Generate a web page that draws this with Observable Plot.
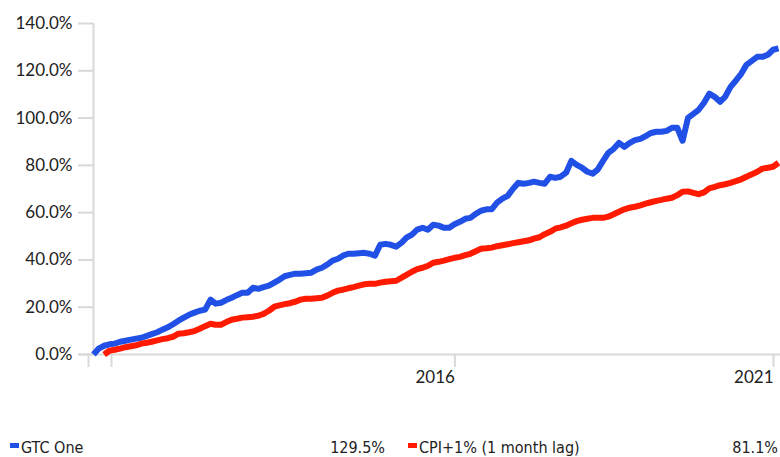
<!DOCTYPE html>
<html>
<head>
<meta charset="utf-8">
<script src="https://cdn.jsdelivr.net/npm/d3@7"></script>
<script src="https://cdn.jsdelivr.net/npm/@observablehq/plot@0.6"></script>
<style>
  html, body { margin: 0; padding: 0; background: #fff; }
  #wrap { position: relative; width: 780px; height: 457px; overflow: hidden; }
  #legend { position: absolute; left: 0; top: 400px; width: 780px; height: 57px;
            font-family: "DejaVu Sans Condensed", "Liberation Sans Narrow", sans-serif;
            font-size: 16px; color: #222; }
  #legend span { position: absolute; white-space: nowrap; line-height: 16px; }
  #legend .sw { display: block; position: absolute; width: 9px; height: 5px; }
</style>
</head>
<body>
<div id="wrap"><div id="chart"></div><div id="legend"></div></div>
<script>
// ---- data (monthly, starting April 2010) ----
const startMonth = "2010-04-01";
const seriesNames = ["GTC One", "CPI+1% (1 month lag)"];
const seriesColors = ["#2150e6", "#ff1a00"];
const finalLabels = ["129.5%", "81.1%"];

const gtcOne = [
  0.0, 2.5, 3.7, 4.3, 4.6, 5.4, 5.8, 6.3, 6.7, 7.1,
  7.9, 8.6, 9.4, 10.5, 11.5, 12.8, 14.3, 15.6, 16.8, 17.7,
  18.5, 19.0, 23.2, 21.5, 21.9, 23.0, 24.0, 25.1, 26.1, 26.1,
  28.2, 27.8, 28.5, 29.1, 30.4, 31.6, 33.1, 33.7, 34.2, 34.2,
  34.4, 34.6, 35.9, 36.7, 38.0, 39.7, 40.5, 41.8, 42.6, 42.6,
  42.8, 43.0, 42.6, 41.8, 46.4, 46.8, 46.4, 45.6, 47.3, 49.4,
  50.7, 52.8, 53.6, 52.8, 54.9, 54.5, 53.6, 53.6, 55.1, 56.1,
  57.4, 57.8, 59.5, 60.8, 61.4, 61.4, 64.2, 65.9, 67.1, 70.1,
  72.6, 72.2, 72.6, 73.1, 72.6, 72.2, 75.2, 74.7, 75.2, 76.9,
  81.9, 80.2, 79.0, 77.3, 76.5, 78.2, 81.9, 85.3, 87.0, 89.5,
  87.8, 89.5, 90.7, 91.2, 92.4, 93.7, 94.2, 94.2, 94.6, 95.9,
  95.9, 90.4, 100.1, 101.8, 103.5, 106.5, 110.3, 109.0, 106.9, 109.0,
  113.2, 115.8, 118.7, 122.5, 124.2, 125.9, 125.9, 126.8, 128.9, 129.5
];

const cpiPlus1 = [
  null, null, 0.0, 1.6, 2.0, 2.5, 3.1, 3.5, 3.9, 4.6,
  5.0, 5.4, 6.0, 6.5, 6.9, 7.5, 8.8, 9.0, 9.4, 9.9,
  10.9, 12.0, 13.0, 12.6, 12.6, 13.7, 14.7, 15.1, 15.6, 15.8,
  16.0, 16.4, 17.2, 18.5, 20.2, 20.8, 21.3, 21.7, 22.3, 23.2,
  23.6, 23.6, 23.8, 24.0, 24.9, 26.1, 27.0, 27.4, 28.0, 28.5,
  29.1, 29.7, 29.9, 29.9, 30.4, 30.8, 31.0, 31.2, 32.5, 33.7,
  35.0, 36.1, 36.7, 37.5, 38.8, 39.2, 39.7, 40.3, 40.9, 41.3,
  42.0, 42.6, 43.7, 44.7, 44.9, 45.2, 45.8, 46.2, 46.6, 47.1,
  47.5, 47.9, 48.3, 49.0, 49.6, 50.9, 51.9, 53.2, 53.8, 54.5,
  55.5, 56.4, 57.0, 57.4, 57.8, 57.8, 57.8, 58.3, 59.3, 60.4,
  61.4, 62.1, 62.5, 63.1, 63.8, 64.4, 65.0, 65.4, 65.9, 66.3,
  67.4, 68.8, 69.0, 68.4, 67.8, 68.6, 70.3, 70.9, 71.6, 72.0,
  72.6, 73.3, 74.1, 75.2, 76.2, 77.3, 78.6, 79.0, 79.4, 81.1
];

const yTicks = [0, 20, 40, 60, 80, 100, 120, 140];
const xTickDates = ["2010-04-01", "2010-08-11", "2016-01-01", "2021-01-01"];
const xTickLabels = ["", "", "2016", "2021"];

// ---- build ----
const start = new Date(startMonth + "T00:00:00Z");
const dates = gtcOne.map((_, i) => d3.utcMonth.offset(start, i));
const seriesValues = [gtcOne, cpiPlus1];
const rows = [];
seriesValues.forEach((vals, s) => vals.forEach((v, i) => {
  if (v != null) rows.push({date: dates[i], value: v, series: seriesNames[s]});
}));
const tickDates = xTickDates.map(d => new Date(d + "T00:00:00Z"));
const labelMap = new Map(tickDates.map((d, i) => [+d, xTickLabels[i]]));
const axisColor = "#d9d9d9";

const chart = Plot.plot({
  width: 780,
  height: 400,
  marginLeft: 93,
  marginRight: 2,
  marginTop: 23,
  marginBottom: 46,
  x: {type: "utc", domain: [dates[0], dates[dates.length - 1]]},
  y: {domain: [0, 140]},
  color: {domain: seriesNames, range: seriesColors},
  style: {fontFamily: "Lato, 'Open Sans', sans-serif", fontSize: "17px", color: "#222", background: "#fff"},
  marks: [
    Plot.ruleY([0], {stroke: axisColor, strokeWidth: 2, insetLeft: -15, insetRight: -2}),
    Plot.ruleX([dates[0]], {stroke: axisColor, strokeWidth: 2}),
    Plot.axisY(yTicks, {tickSize: 15, tickPadding: 6, stroke: axisColor, strokeWidth: 2,
      fill: "#222", tickFormat: d => d.toFixed(1) + "%", label: null}),
    Plot.axisX(tickDates, {tickSize: 13, tickPadding: 3, stroke: axisColor, strokeWidth: 2,
      fill: "#222", textAnchor: "end", dx: -5, label: null,
      tickFormat: d => labelMap.get(+d)}),
    Plot.lineY(rows, {x: "date", y: "value", z: "series", stroke: "series",
      strokeWidth: 6, strokeLinejoin: "round", strokeLinecap: "butt"})
  ]
});
document.getElementById("chart").appendChild(chart);

// ---- legend ----
const legend = document.getElementById("legend");
const legendLayout = [
  {sw: 10, text: 21, valRight: 385},
  {sw: 408, text: 419, valRight: 778}
];
seriesNames.forEach((name, i) => {
  const L = legendLayout[i];
  const sw = document.createElement("span");
  sw.className = "sw";
  sw.style.left = L.sw + "px"; sw.style.top = "43px"; sw.style.background = seriesColors[i];
  legend.appendChild(sw);
  const t = document.createElement("span");
  t.textContent = name; t.style.left = L.text + "px"; t.style.top = "40px";
  legend.appendChild(t);
  const v = document.createElement("span");
  v.textContent = finalLabels[i];
  v.style.left = (L.valRight - 120) + "px"; v.style.width = "120px";
  v.style.textAlign = "right"; v.style.top = "40px";
  legend.appendChild(v);
});
</script>
</body>
</html>
